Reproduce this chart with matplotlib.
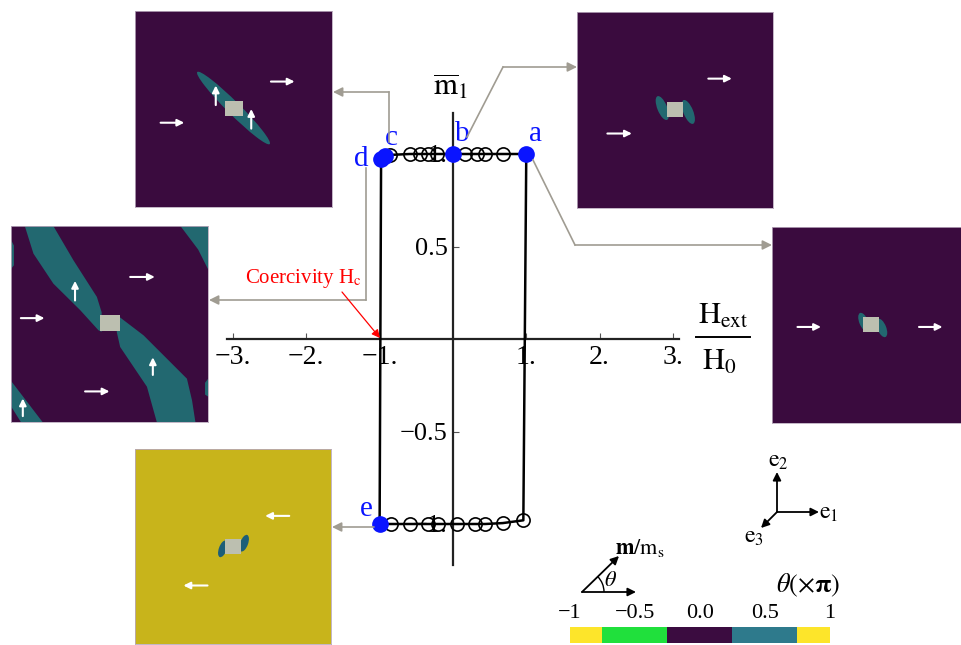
import matplotlib
matplotlib.use('Agg')
import matplotlib.pyplot as plt
from matplotlib.patches import Ellipse, Polygon, Rectangle, Arc

plt.rcParams['font.family'] = ['Liberation Serif', 'DejaVu Serif']
plt.rcParams['mathtext.fontset'] = 'stix'

# ---------------- data ----------------
upper_H = [1.0, 0.68, 0.44, 0.33, 0.16, 0.0, -0.22, -0.34, -0.45, -0.59, -0.86, -0.92, -0.98]
upper_m = [1.0, 1.0, 1.0, 1.0, 1.0, 1.0, 1.0, 1.0, 1.0, 1.0, 0.995, 0.99, 0.975]
lower_H = [-1.0, -0.84, -0.59, -0.34, -0.21, 0.05, 0.30, 0.44, 0.68, 0.96]
lower_m = [-1.0, -1.0, -1.0, -1.0, -1.0, -1.0, -1.0, -1.0, -0.995, -0.98]

label_names = ['a', 'b', 'c', 'd', 'e']
label_H = [1.0, 0.0, -0.92, -0.98, -1.0]
label_m = [1.0, 1.0, 0.99, 0.975, -1.0]

xticks = [-3, -2, -1, 1, 2, 3]
xticklabels = ['\u22123.', '\u22122.', '\u22121.', '1.', '2.', '3.']
yticks = [-1, -0.5, 0.5, 1]
yticklabels = ['\u22121.', '\u22120.5', '0.5', '1.']

cbar_bounds = [-1, -0.75, -0.25, 0.25, 0.75, 1]
cbar_colors = ['#fde52a', '#20e03c', '#3b0c40', '#2e7a8c', '#fde52a']
cbar_ticks = [-1, -0.5, 0.0, 0.5, 1]
cbar_ticklabels = ['\u22121', '\u22120.5', '0.0', '0.5', '1']

PURPLE = '#3a0b3e'
TEAL = '#226870'
TEAL_B = '#1d5e78'
YELLOW = '#c8b41b'
SQUARE = '#bcbfb0'
GRAY = '#a09c92'

W, H = 962, 645
fig = plt.figure(figsize=(W / 100, H / 100), dpi=100)
fig.patch.set_facecolor('white')


def px_axes(x0, y0, x1, y1, **kw):
    return fig.add_axes([x0 / W, 1 - y1 / H, (x1 - x0) / W, (y1 - y0) / H], **kw)


# ---------------- main hysteresis axes ----------------
ax = px_axes(196.3, 98.5, 709.6, 579.5)
ax.set_xlim(-3.5, 3.5)
ax.set_ylim(-1.3, 1.3)
ax.patch.set_alpha(0)
for s in ['top', 'right']:
    ax.spines[s].set_visible(False)
ax.spines['bottom'].set_position(('data', 0))
ax.spines['left'].set_position(('data', 0))
ax.spines['bottom'].set_bounds(-3.08, 3.08)
ax.spines['left'].set_bounds(-1.22, 1.22)
for s in ['bottom', 'left']:
    ax.spines[s].set_linewidth(1.6)
    ax.spines[s].set_color('#222222')
ax.set_xticks(xticks)
ax.set_xticklabels(xticklabels)
ax.set_yticks(yticks)
ax.set_yticklabels(yticklabels)
ax.tick_params(axis='x', direction='in', length=4, width=0.8, color='#555555',
               labelsize=20, pad=4)
ax.tick_params(axis='y', direction='in', length=4, width=0.8, color='#555555',
               labelsize=19, pad=4)

loop_H = upper_H + lower_H + [upper_H[0]]
loop_m = upper_m + lower_m + [upper_m[0]]
ax.plot(loop_H, loop_m, color='black', lw=1.8, zorder=3)
ax.plot(upper_H + lower_H, upper_m + lower_m, 'o', mfc='none', mec='black',
        ms=9.5, mew=1.2, zorder=4)
ax.plot(label_H, label_m, 'o', color='#0a14ff', ms=11, zorder=5)
label_offsets = [(9, 20), (9, 20), (6, 18), (-20, 0), (-13, 15)]
for name, h, m, off in zip(label_names, label_H, label_m, label_offsets):
    ax.annotate(name, (h, m), xytext=off, textcoords='offset pixels',
                color='#0a14ff', fontsize=21, ha='center', va='center', zorder=6)

# ---------------- overlay (pixel coordinates) ----------------
ov = fig.add_axes([0, 0, 1, 1], zorder=10)
ov.set_xlim(0, W)
ov.set_ylim(H, 0)
ov.axis('off')
ov.patch.set_alpha(0)

# axis titles
ov.text(450, 87, r'$\overline{\mathrm{m}}_1$', fontsize=22, ha='center', va='center')
ov.text(723, 316, r'$\mathrm{H}_{\mathrm{ext}}$', fontsize=22, ha='center', va='center')
ov.plot([696, 750], [337, 337], color='black', lw=1.4)
ov.text(719, 362, r'$\mathrm{H}_0$', fontsize=22, ha='center', va='center')

# connectors
connectors = [
    [(467, 137), (503, 67), (577, 67)],
    [(389, 142), (389, 92), (333, 92)],
    [(533, 160), (575, 245), (772, 245)],
    [(366, 168), (366, 300), (209, 300)],
    [(374, 527), (332, 527)],
]
for pts in connectors:
    xs = [p[0] for p in pts[:-1]]
    ys = [p[1] for p in pts[:-1]]
    ov.plot(xs, ys, color=GRAY, lw=1.2)
    ov.annotate('', xy=pts[-1], xytext=pts[-2],
                arrowprops=dict(arrowstyle='-|>', color=GRAY, lw=1.2,
                                mutation_scale=14, shrinkA=0, shrinkB=0))

# coercivity
ov.text(303, 278, r'Coercivity H$_\mathrm{c}$', color='red', fontsize=15,
        ha='center', va='center')
ov.annotate('', xy=(380, 338), xytext=(342, 292),
            arrowprops=dict(arrowstyle='-|>', color='red', lw=0.9,
                            mutation_scale=12, shrinkA=0, shrinkB=0))

# coordinate triad
arr_k = dict(arrowstyle='-|>', color='black', lw=1.3, mutation_scale=12,
             shrinkA=0, shrinkB=0)
ov.annotate('', xy=(819, 512), xytext=(777, 512), arrowprops=arr_k)
ov.annotate('', xy=(777, 472), xytext=(777, 512), arrowprops=arr_k)
ov.annotate('', xy=(761, 528), xytext=(777, 512), arrowprops=arr_k)
ov.text(829, 514, r'$\mathrm{e}_1$', fontsize=17, ha='center', va='center')
ov.text(778, 461, r'$\mathrm{e}_2$', fontsize=17, ha='center', va='center')
ov.text(754, 538, r'$\mathrm{e}_3$', fontsize=17, ha='center', va='center')

# theta legend
ov.annotate('', xy=(619, 556), xytext=(582, 592), arrowprops=arr_k)
ov.annotate('', xy=(636, 592), xytext=(582, 592), arrowprops=arr_k)
ov.add_patch(Arc((582, 592), 44, 44, theta1=-45, theta2=0, color='black', lw=1.0))
ov.text(611, 582, r'$\theta$', fontsize=16, ha='center', va='center')
ov.text(640, 548, r'$\mathbf{m}/\mathrm{m}_\mathrm{s}$', fontsize=16, ha='center',
        va='center')
ov.text(808, 585, r'$\theta(\times\mathbf{\pi})$', fontsize=19, ha='center', va='center')

# colorbar (discrete segments)
cax = px_axes(570, 627, 830, 643)
cax.set_xlim(cbar_bounds[0], cbar_bounds[-1])
cax.set_ylim(0, 1)
lefts = cbar_bounds[:-1]
widths = [b - a for a, b in zip(cbar_bounds[:-1], cbar_bounds[1:])]
cax.bar(lefts, [1] * len(lefts), width=widths, align='edge', color=cbar_colors,
        edgecolor='none', linewidth=0)
for s in cax.spines.values():
    s.set_visible(False)
cax.set_yticks([])
cax.xaxis.set_ticks_position('top')
cax.set_xticks(cbar_ticks)
cax.set_xticklabels(cbar_ticklabels)
cax.tick_params(length=0, labelsize=16, pad=3)

# ---------------- inset images ----------------
inset_c = dict(box=(135, 11, 332, 207), bg=PURPLE,
               polys=[],
               ells=[((0.5, 0.505), 0.52, 0.065, -45, TEAL)],
               arrows=[((0.13, 0.43), (0.25, 0.43)), ((0.69, 0.64), (0.81, 0.64)),
                       ((0.41, 0.52), (0.41, 0.62)), ((0.59, 0.40), (0.59, 0.50))],
               square=(0.458, 0.463, 0.088, 0.077))
inset_b = dict(box=(577, 12, 773, 208), bg=PURPLE,
               polys=[],
               ells=[((0.435, 0.51), 0.05, 0.13, 22, TEAL),
                     ((0.568, 0.49), 0.05, 0.13, 22, TEAL)],
               arrows=[((0.155, 0.38), (0.28, 0.38)), ((0.67, 0.66), (0.79, 0.66))],
               square=(0.458, 0.462, 0.085, 0.077))
inset_a = dict(box=(772, 227, 968, 423), bg=PURPLE,
               polys=[],
               ells=[((0.468, 0.515), 0.045, 0.1, 22, TEAL),
                     ((0.56, 0.485), 0.045, 0.1, 22, TEAL)],
               arrows=[((0.13, 0.49), (0.25, 0.49)), ((0.75, 0.49), (0.87, 0.49))],
               square=(0.466, 0.462, 0.082, 0.077))
inset_d = dict(box=(11, 226, 208, 422), bg=PURPLE,
               polys=[[(0.07, 1.0), (0.215, 1.0), (0.317, 0.825), (0.436, 0.638),
                       (0.46, 0.56), (0.46, 0.46), (0.444, 0.468), (0.351, 0.571),
                       (0.215, 0.706), (0.114, 0.859)],
                      [(0.54, 0.544), (0.673, 0.442), (0.893, 0.221), (0.919, 0.11),
                       (0.936, 0.0), (0.74, 0.0), (0.69, 0.18), (0.554, 0.383),
                       (0.537, 0.459)],
                      [(0.86, 1.0), (1.0, 1.0), (1.0, 0.78), (0.95, 0.88)],
                      [(0.0, 0.21), (0.16, 0.0), (0.05, 0.0), (0.0, 0.08)],
                      [(0.0, 0.93), (0.015, 0.9), (0.015, 0.8), (0.0, 0.78)],
                      [(1.0, 0.22), (0.985, 0.2), (0.985, 0.14), (1.0, 0.13)]],
               ells=[],
               arrows=[((0.05, 0.53), (0.17, 0.53)), ((0.605, 0.74), (0.73, 0.74)),
                       ((0.376, 0.156), (0.5, 0.156)), ((0.325, 0.62), (0.325, 0.72)),
                       ((0.72, 0.24), (0.72, 0.33)), ((0.06, 0.03), (0.06, 0.12))],
               square=(0.452, 0.462, 0.1, 0.085))
inset_e = dict(box=(135, 449, 331, 644), bg=YELLOW,
               polys=[],
               ells=[((0.448, 0.488), 0.04, 0.09, -20, TEAL_B),
                     ((0.557, 0.517), 0.04, 0.09, -20, TEAL_B)],
               arrows=[((0.787, 0.657), (0.664, 0.657)), ((0.37, 0.30), (0.247, 0.30))],
               square=(0.46, 0.462, 0.08, 0.078))

for ins in [inset_c, inset_b, inset_a, inset_d, inset_e]:
    iax = px_axes(*ins['box'])
    iax.set_xlim(0, 1)
    iax.set_ylim(0, 1)
    iax.set_xticks([])
    iax.set_yticks([])
    iax.set_facecolor(ins['bg'])
    for s in iax.spines.values():
        s.set_color('#b8a8bc')
        s.set_linewidth(0.6)
    for poly in ins['polys']:
        iax.add_patch(Polygon(poly, closed=True, facecolor=TEAL, edgecolor='none'))
    for (c, w, h, ang, col) in ins['ells']:
        iax.add_patch(Ellipse(c, w, h, angle=ang, facecolor=col, edgecolor='none'))
    sx, sy, sw, sh = ins['square']
    iax.add_patch(Rectangle((sx, sy), sw, sh, facecolor=SQUARE, edgecolor='none'))
    for (p0, p1) in ins['arrows']:
        iax.annotate('', xy=p1, xytext=p0,
                     arrowprops=dict(arrowstyle='-|>', color='white', lw=1.5,
                                     mutation_scale=10, shrinkA=0, shrinkB=0))

fig.savefig('out.png', dpi=100, facecolor='white')
